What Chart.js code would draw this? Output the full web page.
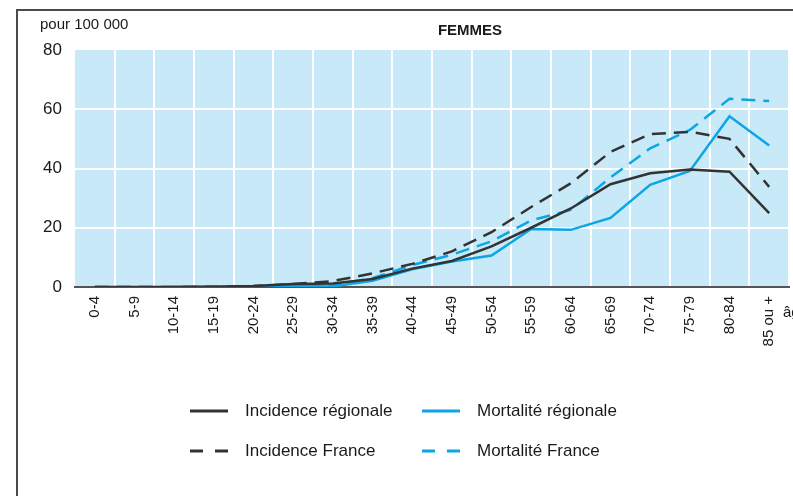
<!DOCTYPE html>
<html>
<head>
<meta charset="utf-8">
<script src="https://cdn.jsdelivr.net/npm/chart.js@4.4.0/dist/chart.umd.min.js"></script>
<style>
  html, body { margin: 0; padding: 0; background: #fff; }
  #wrap { width: 793px; height: 496px; position: relative; }
</style>
</head>
<body>
<div id="wrap"><canvas id="chart" width="793" height="496"></canvas></div>
<script>
const AGES = ["0-4", "5-9", "10-14", "15-19", "20-24", "25-29", "30-34", "35-39", "40-44",
  "45-49", "50-54", "55-59", "60-64", "65-69", "70-74", "75-79", "80-84", "85 ou +"];

const INCIDENCE_REGION = [0, 0, 0, 0.1, 0.3, 1.0, 1.2, 2.7, 6.2, 8.8, 13.7, 20, 26.5, 34.7, 38.4, 39.7, 38.9, 24.9];
const INCIDENCE_FRANCE = [0, 0, 0, 0.1, 0.3, 1.0, 2.0, 4.6, 7.8, 12, 18.5, 27, 35, 45.6, 51.6, 52.4, 50, 33.8];
const MORTALITE_REGION = [null, null, 0, 0, 0, 0.3, 0.2, 2.1, 6.0, 8.6, 10.6, 19.6, 19.3, 23.3, 34.5, 39.2, 57.6, 47.8];
const MORTALITE_FRANCE = [null, null, 0, 0, 0, 0.3, 0.5, 3.0, 7.4, 10.9, 15.4, 22.5, 26, 37, 46.8, 53, 63.5, 62.8];

const Y_TICKS = [0, 20, 40, 60, 80];

const DARK = "#333333";
const BLUE = "#0ca6e6";
const FONT = '"Liberation Sans", Arial, Helvetica, sans-serif';

const bgPlugin = {
  id: "bg",
  beforeDraw(chart) {
    const { ctx, chartArea: a } = chart;
    ctx.save();
    ctx.fillStyle = "#c7e9f8";
    ctx.fillRect(a.left, a.top, a.right - a.left, a.bottom - a.top);
    ctx.restore();
  },
};

// frame, titles, "âge" and the legend in two columns
const decoPlugin = {
  id: "deco",
  afterDraw(chart) {
    const ctx = chart.ctx;
    ctx.save();
    ctx.strokeStyle = "#4a4a4a";
    ctx.lineWidth = 2;
    ctx.beginPath();
    ctx.moveTo(17, 496);
    ctx.lineTo(17, 10);
    ctx.lineTo(793, 10);
    ctx.stroke();

    ctx.fillStyle = "#1a1a1a";
    ctx.textBaseline = "middle";
    ctx.font = "15px " + FONT;
    ctx.textAlign = "left";
    ctx.fillText("pour 100 000", 40, 25);
    ctx.fillText("âge", 783, 313);
    ctx.font = "bold 15px " + FONT;
    ctx.textAlign = "center";
    ctx.fillText("FEMMES", 470, 31);

    // legend spots follow dataset order: regional row, then France row
    const spots = [[190, 411], [422, 411], [190, 451], [422, 451]];
    ctx.font = "17px " + FONT;
    ctx.textAlign = "left";
    chart.data.datasets.forEach((ds, k) => {
      const [x, y] = spots[k];
      ctx.strokeStyle = ds.borderColor;
      ctx.lineWidth = 3;
      ctx.setLineDash(ds.borderDash && ds.borderDash.length ? [13, 12] : []);
      ctx.beginPath();
      ctx.moveTo(x, y);
      ctx.lineTo(x + 38, y);
      ctx.stroke();
      ctx.setLineDash([]);
      ctx.fillStyle = "#1a1a1a";
      ctx.fillText(ds.label, x + 55, y);
    });
    ctx.restore();
  },
};

const line = (label, data, color, dashed) => ({
  label,
  data,
  borderColor: color,
  backgroundColor: color,
  borderWidth: 2.5,
  borderDash: dashed ? [14, 8] : [],
  pointRadius: 0,
  tension: 0,
  fill: false,
});

new Chart(document.getElementById("chart"), {
  type: "line",
  data: {
    labels: AGES,
    datasets: [
      line("Incidence régionale", INCIDENCE_REGION, DARK, false),
      line("Mortalité régionale", MORTALITE_REGION, BLUE, false),
      line("Incidence France", INCIDENCE_FRANCE, DARK, true),
      line("Mortalité France", MORTALITE_FRANCE, BLUE, true),
    ],
  },
  options: {
    responsive: false,
    animation: false,
    layout: { padding: { top: 50, right: 4, left: 0, bottom: 0 } },
    plugins: {
      legend: { display: false },
      title: { display: false },
      tooltip: { enabled: false },
    },
    scales: {
      x: {
        type: "category",
        offset: true,
        afterFit: (s) => {
          s.height = 209;
          s.paddingRight = 0;
          s.paddingLeft = 0;
        },
        grid: {
          offset: true,
          drawTicks: false,
          lineWidth: 2,
          color: (c) => (c.index === 0 || c.index === AGES.length ? "rgba(0,0,0,0)" : "#ffffff"),
        },
        border: { display: true, color: "#555555", width: 2 },
        ticks: {
          minRotation: 90,
          maxRotation: 90,
          autoSkip: false,
          padding: 9,
          color: "#1a1a1a",
          font: { family: FONT, size: 15 },
        },
      },
      y: {
        min: 0,
        max: 80,
        afterFit: (s) => { s.width = 75; },
        afterBuildTicks: (s) => { s.ticks = Y_TICKS.map((v) => ({ value: v })); },
        grid: {
          drawTicks: false,
          lineWidth: 2,
          color: (c) => (c.tick.value === 0 || c.tick.value === 80 ? "rgba(0,0,0,0)" : "#ffffff"),
        },
        border: { display: false },
        ticks: {
          padding: 13,
          color: "#1a1a1a",
          font: { family: FONT, size: 17 },
        },
      },
    },
  },
  plugins: [bgPlugin, decoPlugin],
});
</script>
</body>
</html>
